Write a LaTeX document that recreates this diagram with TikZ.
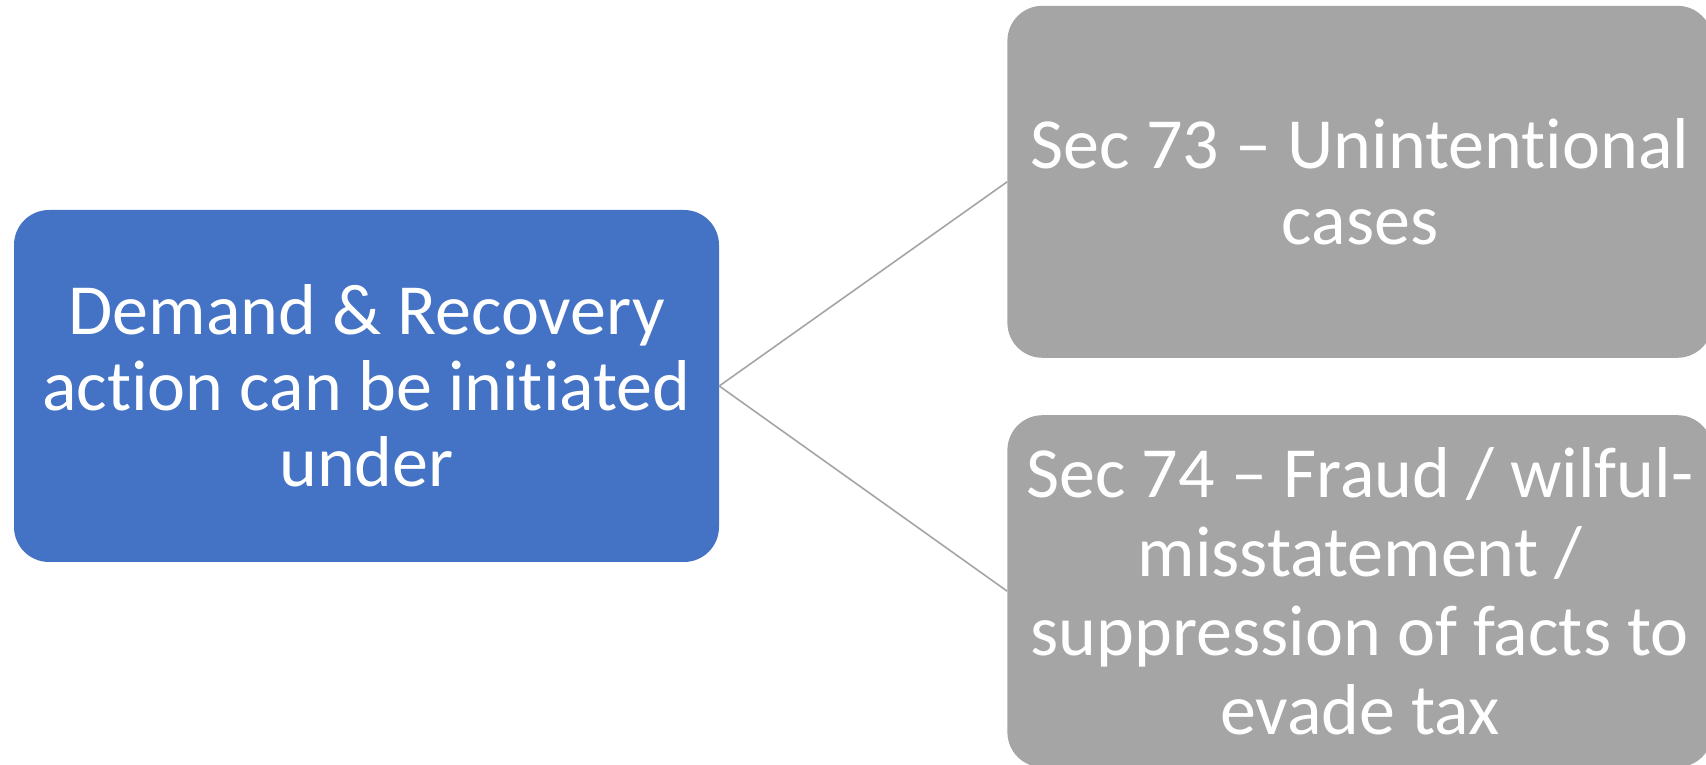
\documentclass[tikz,border=0pt]{standalone}
\usepackage{fontspec}
\setmainfont[Ligatures=NoCommon]{Carlito}
\usetikzlibrary{positioning}
\definecolor{boxblue}{RGB}{68,114,196}
\definecolor{boxgray}{RGB}{165,165,165}

\begin{document}
\begin{tikzpicture}[x=1pt, y=1pt, node distance=28pt and 288pt,
  card/.style={rounded corners=35pt, minimum width=705pt, minimum height=352pt,
    text=white, align=center, inner sep=0pt,
    font=\fontsize{72}{76}\selectfont},
  link/.style={draw=boxgray, line width=1.6pt}]
\useasboundingbox (0,0) rectangle (1706,765);
% Components
\node[card, fill=boxblue] (demand) at (366.5,379) {
    Demand \& Recovery\\
    action can be initiated\\
    under
};
\node[card, fill=boxgray, above right=28pt and 288pt of demand.east] (sec73) {
    Sec 73 -- Unintentional\\
    cases
};
\node[card, fill=boxgray, font=\fontsize{72}{79}\selectfont,
  below right=29pt and 288pt of demand.east] (sec74) {
    Sec 74 -- Fraud / wilful-\\
    misstatement /\\
    suppression of facts to\\
    evade tax
};
% Connections
\draw[link] (demand.east) -- (sec73.west);
\draw[link] (demand.east) -- (sec74.west);
\end{tikzpicture}
\end{document}
